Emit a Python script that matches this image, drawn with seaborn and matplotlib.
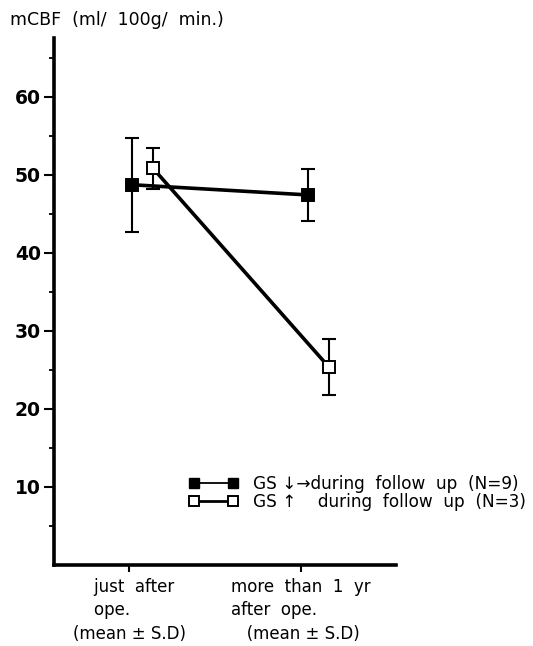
import matplotlib
matplotlib.use("Agg")
import matplotlib.pyplot as plt
import seaborn as sns
import pandas as pd
from matplotlib.lines import Line2D

# ---- data ----
categories = ["    just  after\n    ope.\n(mean ± S.D)", "more  than  1  yr\nafter  ope.\n   (mean ± S.D)"]
group_names = ["GS ↓→during  follow  up  (N=9)", "GS ↑    during  follow  up  (N=3)"]
stable_mean = [48.7, 47.4]
stable_sd = [6.0, 3.3]
rise_mean = [50.8, 25.4]
rise_sd = [2.6, 3.6]
yticks = [10, 20, 30, 40, 50, 60]
ylabel_text = "mCBF  (ml/  100g/  min.)"

sns.set_theme(style="ticks")
plt.rcParams['font.family'] = ['DejaVu Sans']
plt.rcParams['text.color'] = 'black'

fig = plt.figure(figsize=(5.33, 6.46), dpi=100)
ax = fig.add_axes([54/533, 1-565/646, (396-54)/533, (565-38)/646])

offsets = {0: [0.02, 0.04], 1: [0.14, 0.16]}
series = [(stable_mean, stable_sd, "black"), (rise_mean, rise_sd, "white")]
for i, (m, s, fc) in enumerate(series):
    xs = [k + offsets[i][k] for k in range(len(categories))]
    df = pd.DataFrame({"x": xs, "y": m})
    ax.errorbar(xs, m, yerr=s, fmt="none", ecolor="black", elinewidth=1.5,
                capsize=5, capthick=1.5, zorder=2)
    sns.lineplot(data=df, x="x", y="y", ax=ax, color="black", linewidth=2.6,
                 marker="s", markersize=8, markerfacecolor=fc,
                 markeredgecolor="black", markeredgewidth=1.4, zorder=3)

ax.set_xlim(-0.436, 1.552)
ax.set_ylim(0, 67.5)
ax.set_xticks(range(len(categories)))
ax.set_xticklabels(categories, fontsize=12, linespacing=1.42, multialignment="left")
ax.set_yticks(yticks)
ax.set_yticklabels([str(t) for t in yticks], fontsize=13.5, fontweight="bold")
ax.set_yticks([5, 15, 25, 35, 45, 55, 65], minor=True)
ax.tick_params(axis="y", which="major", length=7.5, width=1.5, pad=2,
               color="black", labelcolor="black")
ax.tick_params(axis="y", which="minor", length=3.5, width=1.3, color="black")
ax.tick_params(axis="x", which="major", length=5, width=1.5, pad=4,
               color="black", labelcolor="black")
ax.set_xlabel("")
ax.set_ylabel("")
for sp in ["top", "right"]:
    ax.spines[sp].set_visible(False)
for sp in ["left", "bottom"]:
    ax.spines[sp].set_linewidth(2.6)
    ax.spines[sp].set_color("black")

fig.text(10/533, 1-20/646, ylabel_text, fontsize=12.5, va="center", ha="left")

handles = [
    Line2D([], [], color="black", linewidth=1.3, marker="s", markersize=7.5,
           markerfacecolor="black", markeredgecolor="black"),
    Line2D([], [], color="black", linewidth=2.0, marker="s", markersize=7.5,
           markerfacecolor="white", markeredgecolor="black", markeredgewidth=1.4),
]
leg = fig.legend(handles, group_names, loc="upper left",
                 bbox_to_anchor=(189/533, 1-475/646), frameon=False,
                 fontsize=12.2, numpoints=2, handlelength=2.9, handletextpad=0.9,
                 labelspacing=0.0, borderpad=0, borderaxespad=0)

fig.savefig("out.png", dpi=100)
